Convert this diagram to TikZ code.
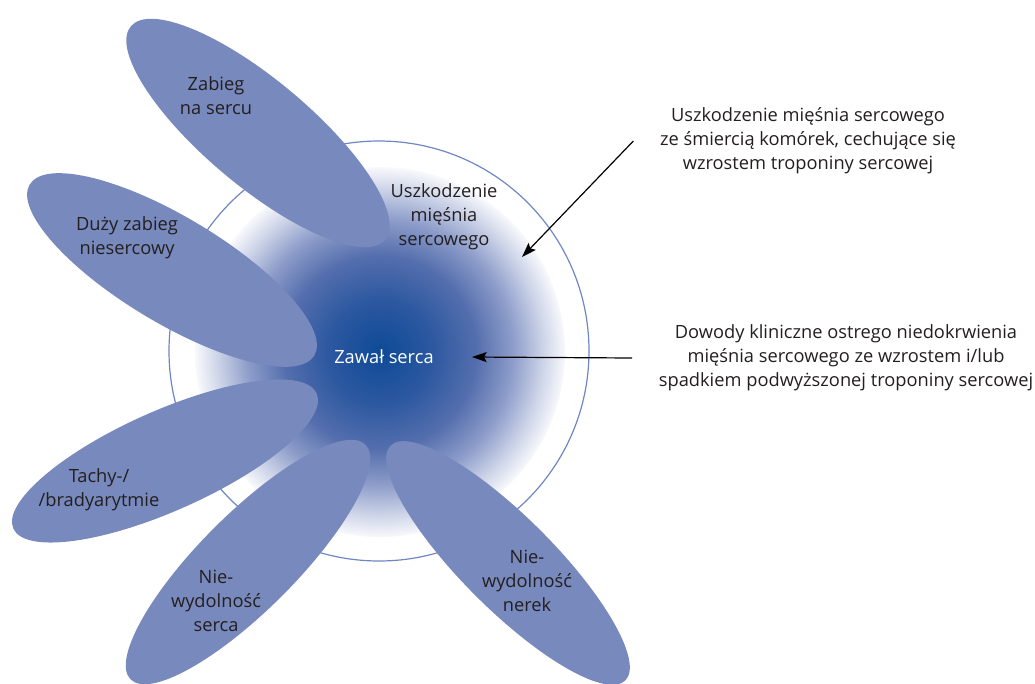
\documentclass[tikz,border=0pt]{standalone}
\usepackage{fontspec}
\setmainfont{Open Sans}
\usetikzlibrary{arrows.meta}

\definecolor{platekkolor}{HTML}{7889BD}
\definecolor{okrag}{HTML}{6F86C4}
\definecolor{tekst}{HTML}{231F20}
\definecolor{ciemny}{HTML}{0E4A97}
\definecolor{sr1}{HTML}{2C58A0}
\definecolor{sr2}{HTML}{546EAD}
\definecolor{sr3}{HTML}{8E9DCA}
\definecolor{sr4}{HTML}{CDD4E8}

\pgfdeclareradialshading{zawal}{\pgfpointorigin}{color(0bp)=(ciemny); color(7bp)=(sr1); color(13bp)=(sr2); color(18bp)=(sr3); color(22bp)=(sr4); color(25.5bp)=(white); color(50bp)=(white)}

\begin{document}
\begin{tikzpicture}[x=0.75pt,y=0.75pt,
  platek/.style={fill=platekkolor},
  napis/.style={text=tekst, align=center, inner sep=0pt,
    font=\fontsize{13.7}{18}\selectfont},
  opis/.style={napis, outer xsep=20pt},
  strzalka/.style={-{Stealth[length=11pt,width=7.5pt,inset=2pt]}, line width=0.9pt}]

\useasboundingbox (0,0) rectangle (1035,-683);

% Gradient i okrąg
\shade[shading=zawal] (380,-352) circle (185);
\draw[okrag, line width=0.9pt] (379,-351) circle (210);

% Płatki
\foreach \x/\y/\a/\b in {
258/133/-40/53, 172/270/-31/53, 165/461/24/50,
248/562/45/48, 508/563/-45/46
}
{
    \fill[platek, rotate around={\a:(\x,-\y)}] (\x,-\y) ellipse (166 and \b);
}

% Napisy w płatkach
\node[napis] (zabieg) at (216,-96) {Zabieg\\na sercu};
\node[napis] (duzy) at (127,-238) {Duży zabieg\\niesercowy};
\node[napis] (tachy) at (99,-490) {Tachy-/\\/bradyarytmie};
\node[napis] (serce) at (216,-601) {Nie-\\wydolność\\serca};
\node[napis] (nerki) at (527,-581) {Nie-\\wydolność\\nerek};

% Środek
\node[napis] (uszk) at (444,-217) {Uszkodzenie\\mięśnia\\sercowego};
\node[napis, text=white] (zawal) at (384,-357) {Zawał serca};

% Opisy z prawej
\node[opis] (opis1) at (808,-141) {Uszkodzenie mięśnia sercowego\\ze śmiercią komórek, cechujące się\\wzrostem troponiny sercowej};
\node[opis] (opis2) at (846,-358) {Dowody kliniczne ostrego niedokrwienia\\mięśnia sercowego ze wzrostem i/lub\\spadkiem podwyższonej troponiny sercowej};

\coordinate (k1) at (522,-257);
\coordinate (k2) at (472,-357);
\draw[strzalka] (opis1.west) -- (k1);
\draw[strzalka] (opis2.west) -- (k2);

\end{tikzpicture}
\end{document}
